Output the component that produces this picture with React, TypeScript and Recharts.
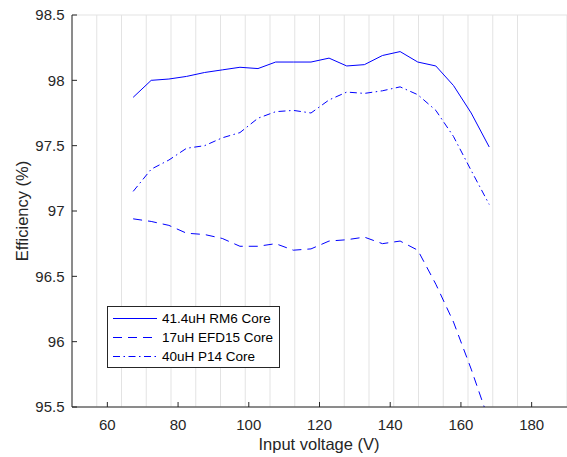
import React from 'react';
import { LineChart, Line, XAxis, YAxis, CartesianGrid, Legend } from 'recharts';

const voltages = [67.3, 72.4, 77.4, 82.4, 87.5, 92.5, 97.5, 102.6, 107.6, 112.6, 117.6, 122.7, 127.7, 132.7, 137.8, 142.8, 147.8, 152.9, 157.9, 162.9, 168.0];
const rm6 = [97.87, 98.0, 98.01, 98.03, 98.06, 98.08, 98.1, 98.09, 98.14, 98.14, 98.14, 98.17, 98.11, 98.12, 98.19, 98.22, 98.14, 98.11, 97.96, 97.75, 97.49];
const efd15 = [96.94, 96.92, 96.89, 96.83, 96.82, 96.79, 96.73, 96.73, 96.75, 96.7, 96.71, 96.77, 96.78, 96.8, 96.75, 96.77, 96.7, 96.44, 96.15, 95.79, 95.39];
const p14 = [97.15, 97.32, 97.39, 97.48, 97.5, 97.56, 97.6, 97.71, 97.76, 97.77, 97.75, 97.85, 97.91, 97.9, 97.92, 97.95, 97.89, 97.77, 97.57, 97.31, 97.05];

const seriesNames = ['41.4uH RM6 Core', '17uH EFD15 Core', '40uH P14 Core'];
const xTicks = [60, 80, 100, 120, 140, 160, 180];
const yTicks = [95.5, 96, 96.5, 97, 97.5, 98, 98.5];

const data = voltages.map((v, i) => ({ v, rm6: rm6[i], efd15: efd15[i], p14: p14[i] }));

const FONT = '"Liberation Sans", Arial, Helvetica, sans-serif';
const AX = '#262626';
const BLUE = '#0000ff';
const dashes = [undefined, '9 6', '7 3.5 1.5 3.5'];

const LegendBox = () => (
  <svg width={173} height={62} style={{ display: 'block' }}>
    <rect x={0.5} y={0.5} width={172} height={61} fill="#fff" stroke={AX} strokeWidth={1} />
    {seriesNames.map((n, i) => (
      <g key={n}>
        <line x1={6} x2={50} y1={12.5 + i * 19} y2={12.5 + i * 19} stroke={BLUE} strokeWidth={1} strokeDasharray={dashes[i]} />
        <text x={55} y={12.5 + i * 19} dominantBaseline="central" fontSize={13.5} fontFamily={FONT} fill="#000">{n}</text>
      </g>
    ))}
  </svg>
);

export default function App() {
  return (
    <div style={{ position: 'absolute', left: 0, top: 0, background: '#fff' }}>
      <LineChart width={567} height={457} data={data} margin={{ top: 15, right: 0, bottom: 0, left: 0 }}>
        <CartesianGrid stroke="#e3e3e3" strokeWidth={1} vertical horizontal verticalPoints={undefined} />
        <XAxis
          xAxisId="b"
          dataKey="v"
          type="number"
          domain={[50, 190]}
          ticks={xTicks}
          height={50}
          tickSize={-5}
          tickMargin={17}
          stroke={AX}
          tick={{ fill: AX, fontSize: 15, fontFamily: FONT }}
          axisLine={{ stroke: AX }}
          tickLine={{ stroke: AX }}
          label={{
            content: () => (
              <text x={319} y={450} textAnchor="middle" fontSize={16.5} fontFamily={FONT} fill={AX}>Input voltage (V)</text>
            ),
          }}
        />
        <XAxis
          xAxisId="t"
          orientation="top"
          dataKey="v"
          type="number"
          domain={[50, 190]}
          ticks={xTicks}
          height={0}
          tickSize={-5}
          tickFormatter={() => ''}
          axisLine={{ stroke: AX }}
          tickLine={{ stroke: AX }}
        />
        <YAxis
          yAxisId="l"
          type="number"
          domain={[95.5, 98.5]}
          ticks={yTicks}
          allowDataOverflow
          width={72}
          tickSize={-5}
          tickMargin={12.5}
          tick={{ fill: AX, fontSize: 15, fontFamily: FONT }}
          axisLine={{ stroke: AX }}
          tickLine={{ stroke: AX }}
          label={{
            content: () => (
              <text x={22} y={211} transform="rotate(-90 22 211)" textAnchor="middle" dominantBaseline="central" fontSize={16.5} fontFamily={FONT} fill={AX}>Efficiency (%)</text>
            ),
          }}
        />
        <YAxis
          yAxisId="r"
          orientation="right"
          type="number"
          domain={[95.5, 98.5]}
          ticks={yTicks}
          width={0}
          tickSize={-5}
          tickFormatter={() => ''}
          axisLine={{ stroke: AX }}
          tickLine={{ stroke: AX }}
        />
        <Line xAxisId="b" yAxisId="l" dataKey="rm6" name={seriesNames[0]} stroke={BLUE} strokeWidth={1} dot={false} isAnimationActive={false} />
        <Line xAxisId="b" yAxisId="l" dataKey="efd15" name={seriesNames[1]} stroke={BLUE} strokeWidth={1} strokeDasharray={dashes[1]} dot={false} isAnimationActive={false} />
        <Line xAxisId="b" yAxisId="l" dataKey="p14" name={seriesNames[2]} stroke={BLUE} strokeWidth={1} strokeDasharray={dashes[2]} dot={false} isAnimationActive={false} />
        <Legend
          layout="vertical"
          verticalAlign="middle"
          align="center"
          content={() => <LegendBox />}
          wrapperStyle={{ position: 'absolute', left: 107, top: 306, width: 173, height: 62 }}
        />
      </LineChart>
    </div>
  );
}
